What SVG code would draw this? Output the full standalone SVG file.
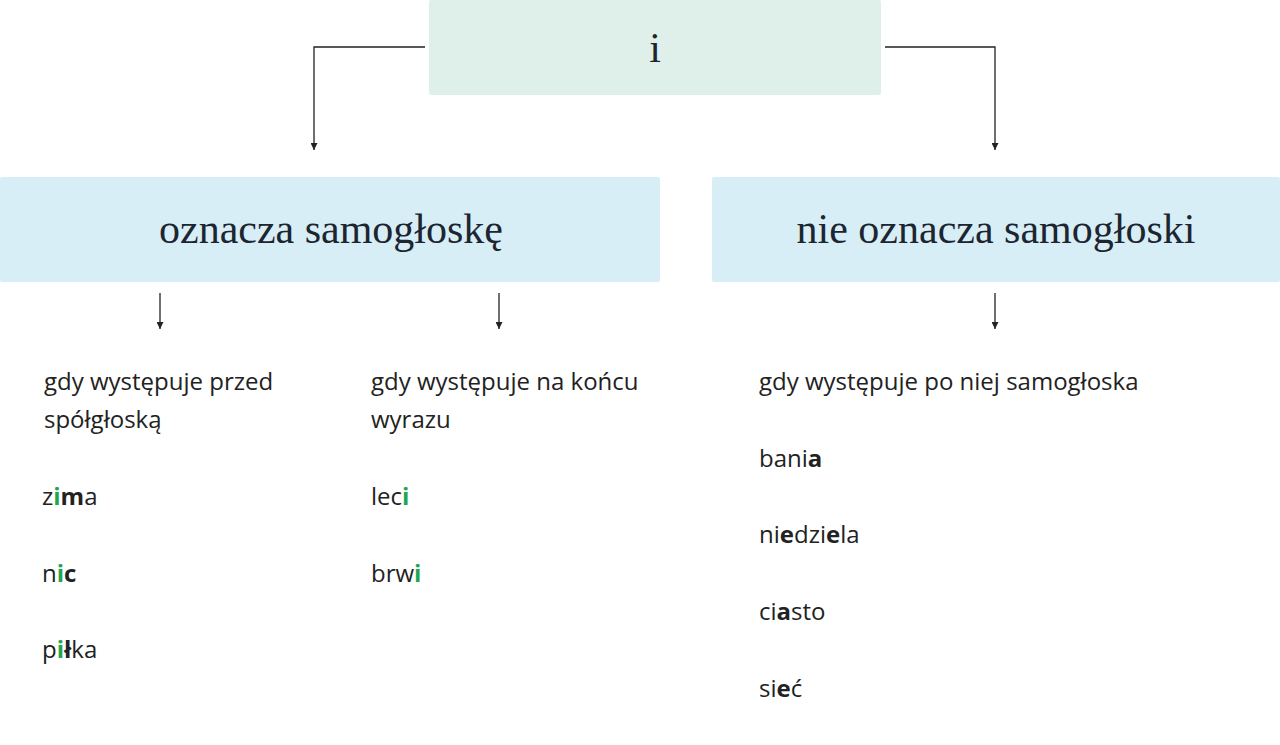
<svg xmlns="http://www.w3.org/2000/svg" width="1280" height="745" viewBox="0 0 1280 745">
<defs>
<marker id="ah" viewBox="0 0 7 7" refX="7" refY="3.5" markerWidth="7" markerHeight="7" markerUnits="userSpaceOnUse" orient="auto">
<path d="M0,0 L7,3.5 L0,7 Z" fill="#222"/>
</marker>
<style>
.hd{font-family:"Liberation Serif","DejaVu Serif",serif;fill:#1c2530;text-anchor:middle}
.tx{font-family:"Open Sans","Noto Sans",sans-serif;font-size:24px;fill:#222}
.b{font-weight:bold}
.g{font-weight:bold;fill:#1fa653}
.cn2{fill:none;stroke:#222;stroke-width:1.3;marker-end:url(#ah)}
</style>
</defs>
<rect width="1280" height="745" fill="#fff"/>
<g id="connectors">
<path class="cn2" d="M425,47 H314 V150"/>
<path class="cn2" d="M885,47 H995 V150"/>
<path class="cn2" d="M160,293 V329"/>
<path class="cn2" d="M499,293 V329"/>
<path class="cn2" d="M995,293 V329"/>
</g>
<g id="node-i">
<rect x="429" y="0" width="452" height="95" rx="2" fill="#dfefe9"/>
<text class="hd" x="655" y="62" font-size="42">i</text>
</g>
<g id="node-oznacza">
<rect x="0" y="177" width="660" height="105" rx="2" fill="#d7eef6"/>
<text class="hd" x="331" y="243" font-size="42">oznacza samogłoskę</text>
</g>
<g id="node-nie-oznacza">
<rect x="712" y="177" width="568" height="105" rx="2" fill="#d7eef6"/>
<text class="hd" x="996" y="243" font-size="42">nie oznacza samogłoski</text>
</g>
<g id="col-przed">
<text class="tx" x="44" y="390">gdy występuje przed</text>
<text class="tx" x="44" y="428">spółgłoską</text>
<text class="tx" x="42" y="505">z<tspan class="g">i</tspan><tspan class="b">m</tspan>a</text>
<text class="tx" x="42" y="582">n<tspan class="g">i</tspan><tspan class="b">c</tspan></text>
<text class="tx" x="42" y="658">p<tspan class="g">i</tspan><tspan class="b">ł</tspan>ka</text>
</g>
<g id="col-koniec">
<text class="tx" x="371" y="390">gdy występuje na końcu</text>
<text class="tx" x="371" y="428">wyrazu</text>
<text class="tx" x="371" y="505">lec<tspan class="g">i</tspan></text>
<text class="tx" x="371" y="582">brw<tspan class="g">i</tspan></text>
</g>
<g id="col-po">
<text class="tx" x="759" y="390">gdy występuje po niej samogłoska</text>
<text class="tx" x="759" y="467">bani<tspan class="b">a</tspan></text>
<text class="tx" x="759" y="543">ni<tspan class="b">e</tspan>dzi<tspan class="b">e</tspan>la</text>
<text class="tx" x="759" y="620">ci<tspan class="b">a</tspan>sto</text>
<text class="tx" x="759" y="697">si<tspan class="b">e</tspan>ć</text>
</g>
</svg>
